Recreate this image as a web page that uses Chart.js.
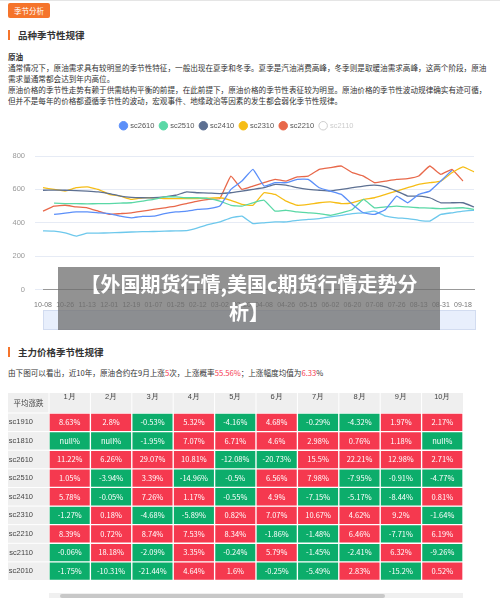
<!DOCTYPE html>
<html><head><meta charset="utf-8">
<script src="https://cdn.jsdelivr.net/npm/chart.js@4"></script>
<style>
body{margin:0;width:500px;height:598px;overflow:hidden;background:#fff;font-family:"Noto Sans CJK SC",sans-serif;color:#333;position:relative}
.abs{position:absolute;white-space:nowrap}
.btn{left:8px;top:3px;width:42px;height:15px;background:#f5742b;color:#fff;font-size:7.5px;line-height:15px;text-align:center;border-radius:2px}
.h{font-size:9.5px;font-weight:bold;padding-left:8px;border-left:2px solid #f5742b;line-height:10px}
.p{font-size:7.6px;line-height:11px;left:8px}
.banner{left:58px;top:267px;width:382px;height:63px;box-sizing:border-box;padding:3px 18px 0;background:rgba(110,110,110,.75);color:#fff;font-weight:bold;font-size:20px;line-height:28px;text-align:center;white-space:normal}
</style></head><body>
<div class="abs" style="left:0;top:0;width:500px;height:1px;background:#e5e5e5"></div>
<div class="abs btn">季节分析</div>
<div class="abs h" style="left:8px;top:30px">品种季节性规律</div>
<div class="abs p" style="top:51px;font-weight:bold">原油</div>
<div class="abs p" style="top:62px">通常情况下，原油需求具有较明显的季节性特征，一般出现在夏季和冬季。夏季是汽油消费高峰，冬季则是取暖油需求高峰，这两个阶段，原油</div>
<div class="abs p" style="top:73px">需求量通常都会达到年内高位。</div>
<div class="abs p" style="top:84px">原油价格的季节性走势有赖于供需结构平衡的前提，在此前提下，原油价格的季节性表征较为明显。原油价格的季节性波动规律确实有迹可循，</div>
<div class="abs p" style="top:95px">但并不是每年的价格都遵循季节性的波动，宏观事件、地缘政治等因素的发生都会弱化季节性规律。</div>
<div class="abs" style="left:0;top:112px;width:500px;height:200px"><canvas id="line"></canvas></div>
<div class="abs" style="left:43px;top:310px;width:431px;height:18px;background:#e8effc;border:1px solid #d2dcf0"></div>
<div class="abs banner">【外国期货行情,美国c期货行情走势分析】</div>
<div class="abs h" style="left:8px;top:347px">主力价格季节性规律</div>
<div class="abs p" style="top:367px">由下图可以看出，近10年，原油合约在9月上涨<span style="color:#f5394f">5</span>次，上涨概率<span style="color:#f5394f">55.56%</span>；上涨幅度均值为<span style="color:#f5394f">6.33</span>%</div>
<div class="abs" style="left:8px;top:390px;width:460px;height:203px"><canvas id="heat"></canvas></div>
<div class="abs" style="left:49px;top:593px;width:414px;height:5px;background:#f0f0f0"></div>
<div class="abs" style="left:60px;top:594px;width:325px;height:4px;background:#c8c8c8;border-radius:2px"></div>
<script>
// line chart data
const dates = ["10-08","10-17","10-26","11-04","11-13","11-22","12-01","12-10","12-19","12-28",
  "01-07","01-16","01-25","02-03","02-12","02-21","03-02","03-11","03-20","03-29",
  "04-08","04-17","04-26","05-05","05-15","05-24","06-02","06-11","06-20","06-29",
  "07-08","07-17","07-26","08-04","08-13","08-22","08-31","09-09","09-18","09-27"];
const sc2610 = [null,450,458,465,465,460,455,440,430,438,440,455,465,470,480,485,500,600,650,720,620,640,640,660,660,610,590,570,510,460,450,480,560,520,570,590,650,715,null,null];
const sc2510 = [null,518,515,515,513,515,515,518,520,530,540,555,555,550,550,545,530,505,500,520,535,470,475,465,460,455,445,460,480,540,490,495,500,495,490,488,485,488,490,480];
const sc2410 = [595,596,595,593,590,585,575,560,552,550,550,555,565,585,580,578,575,580,590,600,610,630,625,610,600,595,590,600,610,620,625,615,590,560,560,550,520,520,520,495];
const sc2310 = [610,600,590,610,615,600,570,560,540,550,550,545,545,545,545,548,550,535,510,505,580,570,530,505,510,520,525,515,520,540,550,570,590,610,630,640,650,700,735,705];
const sc2210 = [470,500,505,495,490,470,450,455,460,470,480,490,500,515,530,540,545,680,600,620,640,660,650,675,680,720,730,740,700,680,640,650,660,665,680,740,690,720,650,null];
const sc2010 = [352,350,340,320,338,338,340,342,345,347,348,350,352,353,370,390,405,430,440,395,400,405,405,415,420,425,435,445,455,460,470,440,430,425,415,410,450,460,470,475];
const yTicks = [0, 200, 400, 600, 800];

// table data
const months = ["1月","2月","3月","4月","5月","6月","7月","8月","9月","10月"];
const contracts = ["sc1910","sc1810","sc2610","sc2510","sc2410","sc2310","sc2210","sc2110","sc2010"];
const r1910 = [8.63,2.8,-0.53,5.32,-4.16,4.68,-0.29,-4.32,1.97,2.17];
const r1810 = [null,null,-1.95,7.07,6.71,4.6,2.98,0.76,1.18,null];
const r2610 = [11.22,6.26,29.07,10.81,-12.08,-20.73,15.5,22.21,12.98,2.71];
const r2510 = [1.05,-3.94,3.39,-14.96,-0.5,6.56,7.98,-7.95,-0.91,-4.77];
const r2410 = [5.78,-0.05,7.26,1.17,-0.55,4.9,-7.15,-5.17,-8.44,0.81];
const r2310 = [-1.27,0.18,-4.68,-5.89,0.82,7.07,10.67,4.62,9.2,-1.64];
const r2210 = [8.39,0.72,8.74,7.53,8.34,-1.86,-1.48,6.46,-7.71,6.19];
const r2110 = [-0.06,18.18,-2.09,3.35,-0.24,5.79,-1.45,-2.41,6.32,-9.26];
const r2010 = [-1.75,-10.31,-21.44,4.64,1.6,-0.25,-5.49,2.83,-15.2,0.52];
const tableRows = [r1910,r1810,r2610,r2510,r2410,r2310,r2210,r2110,r2010];

const mk = (label, data, color) => ({label, data, borderColor: color, backgroundColor: color, borderWidth: 1.3, pointRadius: 0, tension: 0.1, spanGaps: false});

// make legend taller so the plot starts lower
const legendGap = {id: "legendGap", beforeInit(chart) {
  const fit = chart.legend.fit;
  chart.legend.fit = function () { fit.call(this); this.height = 40; };
}};

new Chart(document.getElementById("line"), {
  type: "line",
  data: {labels: dates, datasets: [
    mk("sc2610", sc2610, "#5b8ff9"), mk("sc2510", sc2510, "#5ad8a6"), mk("sc2410", sc2410, "#5d7092"),
    mk("sc2310", sc2310, "#f6bd16"), mk("sc2210", sc2210, "#e8684a"),
    {label: "sc2110", data: [], hidden: true, borderColor: "#ccc", backgroundColor: "#ccc"},
    mk("sc2010", sc2010, "#6dc8ec")
  ]},
  plugins: [legendGap],
  options: {
    responsive: true, maintainAspectRatio: false, animation: false,
    layout: {padding: {right: 26, top: 4}},
    plugins: {
      tooltip: {enabled: false},
      legend: {
        labels: {
          usePointStyle: true, pointStyle: "circle", boxWidth: 6, boxHeight: 6, padding: 6,
          font: {size: 7.5}, color: "#555",
          filter: (item) => item.text !== "sc2010",
          generateLabels(chart) {
            return chart.data.datasets.map((d, i) => ({
              text: d.label, datasetIndex: i, hidden: false,
              fillStyle: d.hidden ? "#fff" : d.borderColor,
              strokeStyle: d.hidden ? "#ccc" : d.borderColor,
              fontColor: d.hidden ? "#ccc" : "#555", lineWidth: 1, pointStyle: "circle"
            }));
          }
        }
      }
    },
    scales: {
      x: {
        grid: {display: false},
        border: {color: "#999"},
        ticks: {autoSkip: false, maxRotation: 0, color: "#777", font: {size: 7},
          callback: (v, i) => i % 2 === 0 ? dates[i] : ""}
      },
      y: {
        min: 0, max: 800,
        afterBuildTicks: (s) => { s.ticks = yTicks.map((v) => ({value: v})); },
        afterFit: (s) => { s.width = 43; },
        grid: {color: "#e6ebf5"},
        border: {display: false},
        ticks: {color: "#999", font: {size: 7.5}, padding: 10}
      }
    }
  }
});

// heatmap table
const cellColor = (v) => (v === null || v < 0) ? "#0cad6b" : "#f5394f";
const tableBg = {id: "tableBg", beforeDraw(chart) {
  const {ctx, chartArea: a} = chart;
  ctx.save();
  ctx.fillStyle = "#efefef";
  ctx.fillRect(0, 3, a.right, a.top - 3);
  ctx.fillRect(0, a.top, a.left, a.bottom - a.top);
  ctx.strokeStyle = "#fff";
  ctx.lineWidth = 1;
  for (let i = 0; i <= contracts.length; i++) {
    const y = chart.scales.y.getPixelForValue(i);
    ctx.beginPath(); ctx.moveTo(0, y); ctx.lineTo(a.left, y); ctx.stroke();
  }
  for (let i = 0; i < months.length; i++) {
    const x = chart.scales.x.getPixelForValue(i) - (a.right - a.left) / months.length / 2;
    ctx.beginPath(); ctx.moveTo(x, 3); ctx.lineTo(x, a.top); ctx.stroke();
  }
  ctx.fillStyle = "#444";
  ctx.font = "7.5px 'Noto Sans CJK SC'";
  ctx.textAlign = "center"; ctx.textBaseline = "middle";
  ctx.fillText("平均涨跌", a.left / 2, (a.top + 3) / 2);
  ctx.restore();
}};
const cellText = {id: "cellText", afterDatasetsDraw(chart) {
  const {ctx} = chart;
  ctx.save();
  ctx.fillStyle = "#fff";
  ctx.font = "7.5px 'Noto Sans CJK SC'";
  ctx.textAlign = "center"; ctx.textBaseline = "middle";
  tableRows.forEach((row, r) => row.forEach((v, c) => {
    ctx.fillText((v === null ? "null" : v) + "%", chart.scales.x.getPixelForValue(c), chart.scales.y.getPixelForValue(r + 0.5));
  }));
  ctx.restore();
}};

new Chart(document.getElementById("heat"), {
  type: "bar",
  data: {labels: months, datasets: tableRows.map((row, r) => ({
    label: contracts[r], grouped: false,
    data: row.map(() => [r, r + 1]),
    backgroundColor: row.map(cellColor),
    borderColor: "#fff", borderWidth: 1, borderSkipped: false,
    barPercentage: 1, categoryPercentage: 1
  }))},
  plugins: [tableBg, cellText],
  options: {
    responsive: true, maintainAspectRatio: false, animation: false,
    layout: {padding: {right: 5, bottom: 1}},
    plugins: {legend: {display: false}, tooltip: {enabled: false}},
    scales: {
      x: {position: "top", grid: {display: false}, border: {display: false},
        afterFit: (s) => { s.height = 23; },
        ticks: {color: "#444", font: {size: 7.5}, padding: 4}},
      y: {min: 0, max: contracts.length, reverse: true,
        afterBuildTicks: (s) => { s.ticks = contracts.map((_, i) => ({value: i + 0.5})); },
        afterFit: (s) => { s.width = 41; },
        grid: {display: false}, border: {display: false},
        ticks: {color: "#444", font: {size: 7.5}, padding: 8,
          callback: (v) => contracts[Math.floor(v)]}}
    }
  }
});
</script>
</body></html>
